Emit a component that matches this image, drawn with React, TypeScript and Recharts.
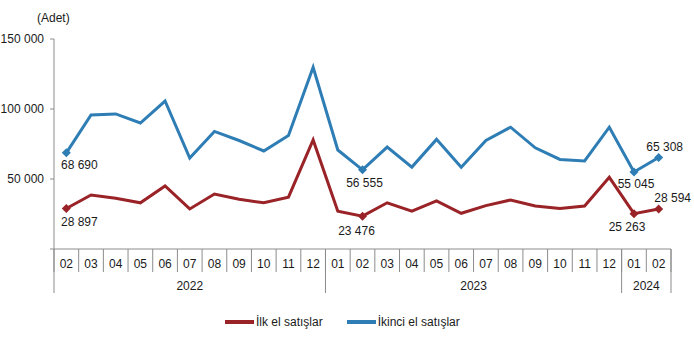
import { Legend, Line, LineChart, XAxis, YAxis } from "recharts";

const months = [
  "02", "03", "04", "05", "06", "07", "08", "09", "10", "11", "12",
  "01", "02", "03", "04", "05", "06", "07", "08", "09", "10", "11", "12",
  "01", "02",
];
const years = [
  "2022", "2022", "2022", "2022", "2022", "2022", "2022", "2022", "2022", "2022", "2022",
  "2023", "2023", "2023", "2023", "2023", "2023", "2023", "2023", "2023", "2023", "2023", "2023",
  "2024", "2024",
];
// İlk el satışlar
const firstHand = [
  28897, 38600, 36200, 33000, 45000, 28600, 39300, 35500, 33000, 37000, 77900,
  27000, 23476, 33000, 27000, 34300, 25500, 31000, 35000, 30700, 29000, 30700, 51200,
  25263, 28594,
];
// İkinci el satışlar
const secondHand = [
  68690, 95700, 96500, 90000, 105700, 65000, 84000, 77500, 70000, 81000, 129800,
  70700, 56555, 72800, 58500, 78300, 58400, 77500, 87000, 72300, 64000, 62900, 87000,
  55045, 65308,
];
const yTicks = [0, 50000, 100000, 150000];
const markedIdx = [0, 12, 23, 24];

const RED = "#9a2328";
const BLUE = "#2e7db5";
const AXIS = "#8c8c8c";
const TEXT = "#1a1a1a";
const FONT = "'Liberation Sans', Arial, sans-serif";

const W = 694;
const H = 360;
const PLOT_LEFT = 54;
const PLOT_RIGHT = 671;
const BAND = (PLOT_RIGHT - PLOT_LEFT) / months.length;

// label offsets (dx, dy) from the marker, per series
const redOffsets: Record<number, [number, number]> = {
  0: [13, 13],
  12: [-6, 14.5],
  23: [-7, 13],
  24: [14, -11],
};
const blueOffsets: Record<number, [number, number]> = {
  0: [13, 12],
  12: [2, 13],
  23: [2, 12],
  24: [6, -11],
};

const data = months.map((m, i) => ({
  idx: i,
  m,
  year: years[i],
  first: firstHand[i],
  second: secondHand[i],
}));

const fmt = (n: number) => String(n).replace(/\B(?=(\d{3})+(?!\d))/g, " ");

function makeDot(color: string, offsets: Record<number, [number, number]>) {
  return (props: any) => {
    const { cx, cy, index, value } = props;
    if (!markedIdx.includes(index) || cx == null) return <g key={index} />;
    const r = 4.5;
    const [dx, dy] = offsets[index];
    const v = Array.isArray(value) ? value[1] : value;
    return (
      <g key={index}>
        <path
          d={`M${cx},${cy - r}L${cx + r},${cy}L${cx},${cy + r}L${cx - r},${cy}Z`}
          fill={color}
        />
        <text
          x={cx + dx}
          y={cy + dy}
          dy="0.35em"
          textAnchor="middle"
          fontSize={12}
          fontFamily={FONT}
          fill={TEXT}
        >
          {fmt(v)}
        </text>
      </g>
    );
  };
}

const MonthTick = (props: any) => {
  const { x, y, payload } = props;
  const i = payload.value as number;
  const h = BAND / 2;
  return (
    <g>
      <line x1={x - h} x2={x - h} y1={y} y2={y + 23} stroke={AXIS} />
      {i === months.length - 1 && (
        <line x1={x + h} x2={x + h} y1={y} y2={y + 23} stroke={AXIS} />
      )}
      <text x={x} y={y + 19} textAnchor="middle" fontSize={12} fontFamily={FONT} fill={TEXT}>
        {months[i]}
      </text>
    </g>
  );
};

const YearTick = (props: any) => {
  const { x, y, payload } = props;
  const index = payload.value as number;
  const h = BAND / 2;
  const yr = years[index];
  const isStart = index === 0 || years[index - 1] !== yr;
  if (!isStart) return <g />;
  const last = years.lastIndexOf(yr);
  const center = x + ((last - index) / 2) * BAND;
  const isLastYear = last === years.length - 1;
  return (
    <g>
      <line x1={x - h} x2={x - h} y1={y - 22} y2={y + 22} stroke={AXIS} />
      {isLastYear && (
        <line
          x1={x + (last - index) * BAND + h}
          x2={x + (last - index) * BAND + h}
          y1={y - 22}
          y2={y + 22}
          stroke={AXIS}
        />
      )}
      <text x={center} y={y + 19} textAnchor="middle" fontSize={12} fontFamily={FONT} fill={TEXT}>
        {yr}
      </text>
    </g>
  );
};

const LegendContent = () => (
  <div
    style={{
      display: "flex",
      alignItems: "center",
      height: 20,
      paddingLeft: 225,
      fontFamily: FONT,
      fontSize: 12,
      color: TEXT,
    }}
  >
    <span style={{ display: "inline-block", width: 29, height: 4, background: RED }} />
    <span style={{ marginLeft: 2 }}>İlk el satışlar</span>
    <span
      style={{ display: "inline-block", width: 29, height: 4, background: BLUE, marginLeft: 24 }}
    />
    <span style={{ marginLeft: 2 }}>İkinci el satışlar</span>
  </div>
);

export default function App() {
  return (
    <div style={{ position: "absolute", left: 0, top: 0, width: W, height: H, background: "#fff" }}>
      <div
        style={{
          position: "absolute",
          left: 37,
          top: 11,
          fontFamily: FONT,
          fontSize: 12,
          color: TEXT,
        }}
      >
        (Adet)
      </div>
      <LineChart
        width={W}
        height={H}
        data={data}
        margin={{ top: 39, right: W - PLOT_RIGHT, left: 0, bottom: 47 }}
      >
        <XAxis
          dataKey="idx"
          type="number"
          domain={[-0.5, months.length - 0.5]}
          ticks={data.map((d) => d.idx)}
          interval={0}
          height={22}
          tickSize={0}
          tickMargin={0}
          tickLine={false}
          axisLine={{ stroke: AXIS }}
          tick={<MonthTick />}
        />
        <XAxis
          xAxisId="year"
          dataKey="idx"
          type="number"
          domain={[-0.5, months.length - 0.5]}
          ticks={data.map((d) => d.idx)}
          interval={0}
          height={22}
          tickSize={0}
          tickMargin={0}
          tickLine={false}
          axisLine={false}
          tick={<YearTick />}
        />
        <YAxis
          width={PLOT_LEFT}
          domain={[0, 150000]}
          ticks={yTicks}
          interval={0}
          tickSize={4}
          tickMargin={6}
          axisLine={{ stroke: AXIS }}
          tickLine={{ stroke: AXIS }}
          tick={{ fill: TEXT, fontSize: 12, fontFamily: FONT }}
          tickFormatter={(v: number) => (v === 0 ? "" : fmt(v))}
        />
        <Legend
          verticalAlign="bottom"
          content={<LegendContent />}
          wrapperStyle={{ left: 0, width: W, height: 20, bottom: 28 }}
        />
        <Line
          dataKey="first"
          name="İlk el satışlar"
          stroke={RED}
          strokeWidth={3}
          dot={makeDot(RED, redOffsets)}
          activeDot={false}
          isAnimationActive={false}
        />
        <Line
          dataKey="second"
          name="İkinci el satışlar"
          stroke={BLUE}
          strokeWidth={3}
          dot={makeDot(BLUE, blueOffsets)}
          activeDot={false}
          isAnimationActive={false}
        />
      </LineChart>
    </div>
  );
}
